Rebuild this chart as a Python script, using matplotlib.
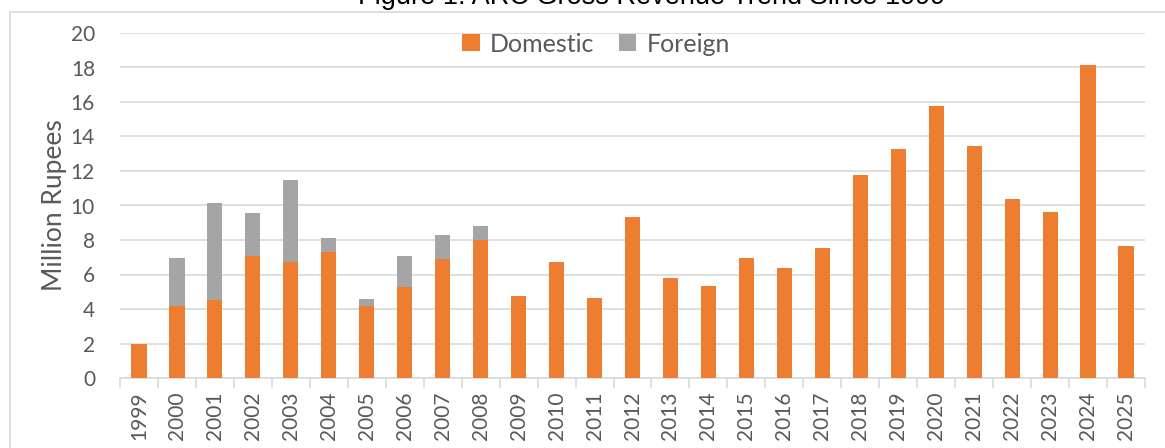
import numpy as np
import matplotlib.pyplot as plt
from matplotlib.patches import Rectangle

# revenue in million rupees
years = [str(y) for y in range(1999, 2026)]
domestic = [2.0, 4.2, 4.5, 7.1, 6.7, 7.3, 4.15, 5.25, 6.9, 8.0,
            4.75, 6.75, 4.65, 9.35, 5.8, 5.35, 6.95, 6.4, 7.55,
            11.75, 13.3, 15.75, 13.45, 10.4, 9.65, 18.15, 7.65]
foreign = [0.0, 2.75, 5.65, 2.45, 4.8, 0.8, 0.42, 1.85, 1.4, 0.8,
           0, 0, 0, 0, 0, 0, 0, 0, 0,
           0, 0, 0, 0, 0, 0, 0, 0]
yticks = list(range(0, 21, 2))

orange = '#ED7D31'
grey = '#A5A5A5'
text_col = '#595959'
grid_col = '#D9D9D9'

plt.rcParams['font.family'] = ['Lato', 'DejaVu Sans']

fig = plt.figure(figsize=(11.65, 4.48), dpi=100)
ax = fig.add_axes([120/1165, 1 - 378/448, 1025/1165, 345/448])

# outer frame of the chart area (cut by the image edges)
fig.patches.append(Rectangle((10/1165, -0.1), 1.2, 1 - 12/448 + 0.1,
                             transform=fig.transFigure, fill=False,
                             edgecolor=grid_col, lw=1.2))

x = np.arange(len(years))
ax.bar(x, domestic, width=0.4, color=orange, label='Domestic', zorder=3)
ax.bar(x, foreign, width=0.4, bottom=domestic, color=grey,
       label='Foreign', zorder=3)

ax.set_xlim(-0.5, len(years) - 0.5)
ax.set_ylim(0, 20)
ax.set_yticks(yticks)
ax.yaxis.grid(True, color=grid_col, lw=1.2, zorder=0)
ax.set_axisbelow(True)

ax.set_xticks(x)
ax.set_xticklabels(years, rotation=90)
ax.set_xticks(np.arange(-0.5, len(years)), minor=True)
ax.tick_params(axis='x', which='major', length=0, pad=10,
               labelsize=15, labelcolor=text_col)
ax.tick_params(axis='x', which='minor', length=7, color=grid_col, width=1.2)
ax.tick_params(axis='y', length=0, pad=18, labelsize=15, labelcolor=text_col)

for side in ['top', 'right', 'left']:
    ax.spines[side].set_visible(False)
ax.spines['bottom'].set_color(grid_col)
ax.spines['bottom'].set_linewidth(1.2)

ax.set_ylabel('Million Rupees', fontsize=19, color=text_col, labelpad=3)

fig.legend(loc='center', bbox_to_anchor=(596/1165, 1 - 44/448),
           ncol=2, frameon=False, fontsize=18, labelcolor=text_col,
           handlelength=0.7, handleheight=0.7, handletextpad=0.4,
           columnspacing=1.0)

# title, mostly cut off by the top edge as in the original
fig.text(652/1165, 1 + 3/448, 'Figure 1: ARC Gross Revenue Trend Since 1999',
         ha='center', va='center', fontsize=19.5, color='black',
         family='Liberation Sans')

fig.savefig('out.png', dpi=100)
